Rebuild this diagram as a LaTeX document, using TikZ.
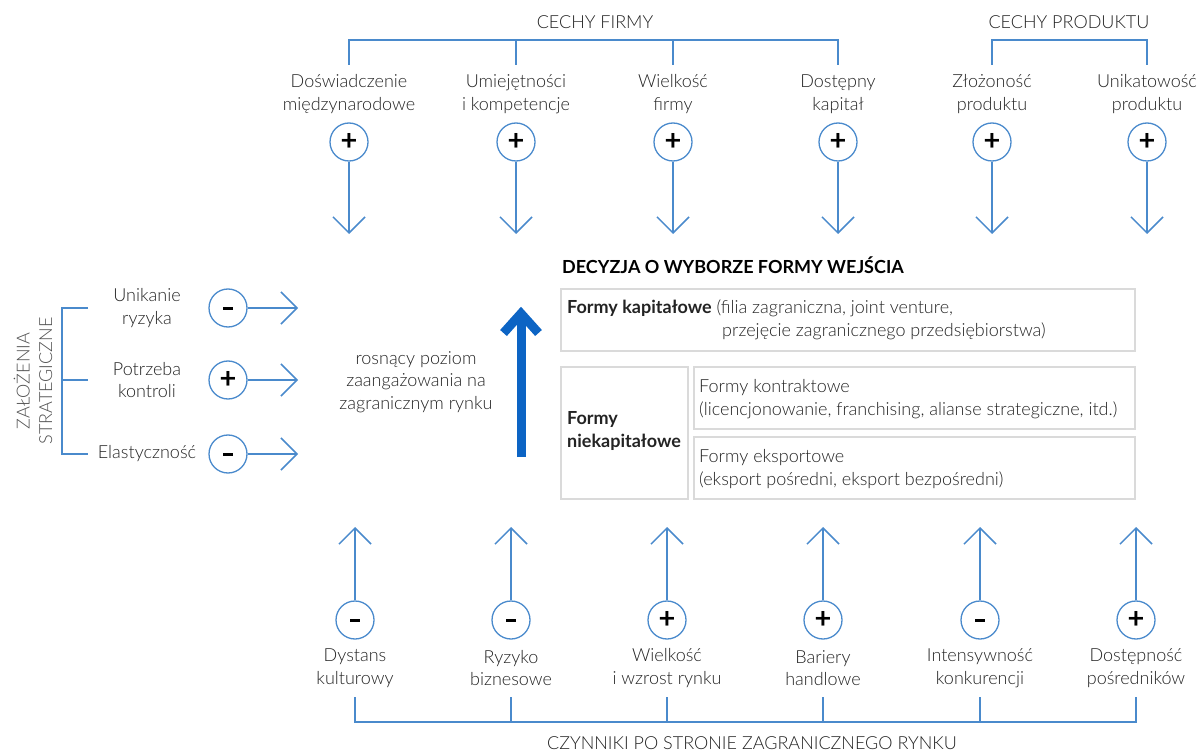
\documentclass[tikz,border=0pt]{standalone}
\usepackage{fontspec}
\setmainfont{Lato Light}[BoldFont=Lato Bold]
\usetikzlibrary{arrows.meta}
\definecolor{lblue}{RGB}{74,138,204}
\definecolor{dblue}{RGB}{12,100,196}
\definecolor{txt}{RGB}{35,35,35}
\definecolor{bgray}{RGB}{218,218,218}
\newcommand\mysignplus{\textbf{+}}
\newcommand\mysignminus{\rule{10pt}{3pt}}
\begin{document}
\begin{tikzpicture}[x=1pt,y=-1pt,
  lab/.style={align=center, font=\fontsize{18}{22.5}\selectfont, text=txt, inner sep=0},
  signc/.style={circle, draw=lblue, line width=1.3pt, minimum size=38pt, inner sep=0, font=\fontsize{29}{29}\selectfont\bfseries, text=black},
  conn/.style={draw=lblue, line width=1.5pt},
  arr/.style={conn, -{Straight Barb[length=16pt,width=32pt]}},
  box/.style={draw=bgray, line width=1.5pt, rectangle, inner sep=0},
  btxt/.style={font=\fontsize{18}{22.5}\selectfont, text=txt, inner sep=0, anchor=base west},
]
\useasboundingbox (0,0) rectangle (1202,751);

% ---------- top: firm features ----------
\node[lab] (tf) at (595,22) {CECHY FIRMY};
\node[lab] (tp) at (1069,22) {CECHY PRODUKTU};
\foreach \i/\x/\t/\s in {1/349/{Doświadczenie\\międzynarodowe}/\mysignplus,2/516/{Umiejętności\\i kompetencje}/\mysignplus,3/673/{Wielkość\\firmy}/\mysignplus,4/838/{Dostępny\\kapitał}/\mysignplus,5/992/{Złożoność\\produktu}/\mysignplus,6/1147/{Unikatowość\\produktu}/\mysignplus}{
  \node[lab] (tl\i) at (\x,94) {\t};
  \node[signc] (tc\i) at (\x,142) {\s};
  \coordinate (tt\i) at (\x,234);
  \coordinate (tb\i) at (\x,40);
  \coordinate (tk\i) at (\x,65);
  \draw[arr] (tc\i.south) -- (tt\i);
}
\draw[conn] (tk1) -- (tb1) -- (tb4) -- (tk4);
\draw[conn] (tb2) -- (tk2);
\draw[conn] (tb3) -- (tk3);
\draw[conn] (tk5) -- (tb5) -- (tb6) -- (tk6);

% ---------- bottom: foreign market ----------
\node[lab] (bf) at (752,743) {CZYNNIKI PO STRONIE ZAGRANICZNEGO RYNKU};
\foreach \i/\x/\t/\s in {1/355/{Dystans\\kulturowy}/\mysignminus,2/511/{Ryzyko\\biznesowe}/\mysignminus,3/667/{Wielkość\\i wzrost rynku}/\mysignplus,4/823/{Bariery\\handlowe}/\mysignplus,5/980/{Intensywność\\konkurencji}/\mysignminus,6/1136/{Dostępność\\pośredników}/\mysignplus}{
  \node[lab] (bl\i) at (\x,668) {\t};
  \node[signc] (bc\i) at (\x,620) {\s};
  \coordinate (bt\i) at (\x,527);
  \coordinate (bb\i) at (\x,722);
  \coordinate (bk\i) at (\x,697);
  \draw[arr] (bc\i.north) -- (bt\i);
}
\draw[conn] (bk1) -- (bb1) -- (bb6) -- (bk6);
\foreach \i in {2,3,4,5}{\draw[conn] (bb\i) -- (bk\i);}

% ---------- left: strategic assumptions ----------
\node[lab, rotate=90, text=txt!80] (zs) at (33,381) {ZAŁOŻENIA\\STRATEGICZNE};
\foreach \i/\y/\t/\s in {1/308/{Unikanie\\ryzyka}/\mysignminus,2/380/{Potrzeba\\kontroli}/\mysignplus,3/454/{Elastyczność}/\mysignminus}{
  \node[lab] (ll\i) at (147,\y) {\t};
  \node[signc] (lc\i) at (228,\y) {\s};
  \coordinate (lt\i) at (298,\y);
  \coordinate (lb\i) at (62,\y);
  \coordinate (lk\i) at (88,\y);
  \draw[arr] (lc\i.east) -- (lt\i);
}
\draw[conn] (lk1) -- (lb1) -- (lb3) -- (lk3);
\draw[conn] (lb2) -- (lk2);

% ---------- centre ----------
\node[lab] (ros) at (416,382) {rosnący poziom\\zaangażowania na\\zagranicznym rynku};
\coordinate (ba0) at (521,457);
\coordinate (ba1) at (521,312);
\draw[dblue, line width=9pt] (ba0) -- (ba1);
\draw[dblue, line width=9pt, line join=miter, line cap=butt] (503.5,333) -- (521,313.5) -- (538.5,333);

\node[font=\fontsize{18}{22}\selectfont\bfseries, text=black, inner sep=0, anchor=base west] (dec) at (562,274) {DECYZJA O WYBORZE FORMY WEJŚCIA};

\node[box, minimum width=574pt, minimum height=62pt] (b1) at (848,320) {};
\node[box, minimum width=127pt, minimum height=132pt] (b2) at (624.5,433) {};
\node[box, minimum width=441pt, minimum height=62pt] (b3) at (914.5,398) {};
\node[box, minimum width=441pt, minimum height=62pt] (b4) at (914.5,468) {};

\node[btxt] (k1) at (567,314) {\textbf{Formy kapitałowe} (filia zagraniczna, joint venture,};
\node[btxt] (k2) at (722,337) {przejęcie zagranicznego przedsiębiorstwa)};
\node[btxt, align=left, anchor=west] (n1) at (567,431) {\textbf{Formy}\\\textbf{niekapitałowe}};
\node[btxt] (c1) at (699,392) {Formy kontraktowe};
\node[btxt] (c2) at (699,415) {(licencjonowanie, franchising, alianse strategiczne, itd.)};
\node[btxt] (e1) at (699,462) {Formy eksportowe};
\node[btxt] (e2) at (699,485) {(eksport pośredni, eksport bezpośredni)};
\end{tikzpicture}
\end{document}
